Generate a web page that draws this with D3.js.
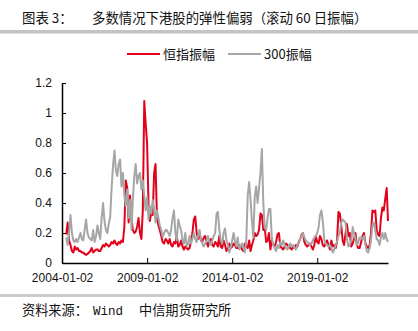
<!DOCTYPE html>
<html>
<head>
<meta charset="utf-8">
<script src="https://cdn.jsdelivr.net/npm/d3@7"></script>
<style>
  html, body { margin: 0; padding: 0; background: #fff; }
  svg { display: block; }
  .cjk { font-family: "Noto Sans CJK SC", "Noto Sans", sans-serif; }
  .tick text { font-family: "Liberation Sans", Arial, sans-serif; }
</style>
</head>
<body>
<svg id="chart" width="418" height="331"></svg>
<script>
// Series names (legend order)
const seriesNames = ["恒指振幅", "300振幅"];

// Monthly observations, 2004-01 .. 2023-03 (first months empty: 60-day window not yet filled)
const firstMonth = new Date(2004, 0, 1);
const endMonth = new Date(2023, 3, 1);

// Hang Seng Index rolling 60-day amplitude
const hsiAmp = [null, null, null,
  0.19,0.27,0.15,0.12,0.08,0.07,0.11,0.09,0.1,0.08,
  0.08,0.07,0.07,0.06,0.055,0.06,0.07,0.08,0.1,0.07,
  0.08,0.09,0.09,0.08,0.08,0.1,0.12,0.11,0.13,0.12,
  0.11,0.12,0.14,0.13,0.15,0.13,0.12,0.14,0.13,0.15,
  0.14,0.24,0.55,0.5,0.27,0.45,0.3,0.22,0.2,0.21,
  0.24,0.3,0.2,0.16,0.35,1.08,0.93,0.8,0.38,0.28,
  0.34,0.32,0.6,0.66,0.3,0.25,0.22,0.18,0.14,0.13,
  0.16,0.15,0.13,0.16,0.12,0.11,0.14,0.13,0.18,0.11,
  0.12,0.15,0.11,0.09,0.11,0.1,0.09,0.1,0.14,0.2,
  0.29,0.31,0.2,0.16,0.2,0.15,0.14,0.17,0.18,0.14,
  0.11,0.15,0.16,0.12,0.11,0.14,0.13,0.11,0.18,0.11,
  0.1,0.15,0.12,0.08,0.1,0.13,0.1,0.11,0.13,0.12,
  0.1,0.1,0.12,0.11,0.09,0.08,0.13,0.11,0.1,0.15,
  0.08,0.12,0.15,0.2,0.18,0.19,0.22,0.33,0.32,0.22,
  0.24,0.14,0.15,0.2,0.09,0.15,0.12,0.11,0.14,0.19,
  0.2,0.11,0.1,0.09,0.11,0.13,0.12,0.11,0.1,0.09,
  0.11,0.1,0.12,0.11,0.14,0.16,0.19,0.2,0.14,0.12,
  0.11,0.12,0.13,0.11,0.09,0.12,0.18,0.14,0.13,0.18,
  0.16,0.12,0.11,0.13,0.15,0.12,0.09,0.15,0.11,0.12,
  0.1,0.14,0.34,0.33,0.25,0.15,0.12,0.2,0.26,0.18,
  0.2,0.11,0.13,0.16,0.2,0.12,0.1,0.1,0.14,0.18,
  0.2,0.13,0.11,0.1,0.12,0.2,0.35,0.34,0.35,0.22,
  0.19,0.18,0.3,0.37,0.35,0.43,0.5,0.28];

// CSI 300 rolling 60-day amplitude
const csiAmp = [null, null, null,
  0.17,0.12,0.2,0.32,0.2,0.15,0.14,0.16,0.14,0.17,
  0.2,0.16,0.15,0.22,0.29,0.2,0.17,0.16,0.15,0.22,
  0.14,0.18,0.25,0.2,0.16,0.3,0.4,0.28,0.22,0.2,
  0.26,0.31,0.5,0.65,0.75,0.62,0.58,0.66,0.69,0.51,
  0.6,0.45,0.38,0.49,0.3,0.42,0.22,0.42,0.58,0.66,
  0.53,0.58,0.6,0.49,0.55,0.45,0.35,0.44,0.29,0.38,
  0.33,0.42,0.36,0.27,0.35,0.3,0.25,0.22,0.175,0.2,
  0.22,0.22,0.2,0.18,0.22,0.3,0.35,0.2,0.15,0.29,
  0.25,0.22,0.15,0.13,0.2,0.11,0.13,0.18,0.13,0.16,
  0.2,0.16,0.14,0.18,0.22,0.16,0.13,0.11,0.13,0.15,
  0.18,0.14,0.12,0.15,0.18,0.2,0.33,0.34,0.22,0.15,
  0.13,0.2,0.23,0.15,0.12,0.07,0.1,0.15,0.2,0.15,
  0.11,0.17,0.09,0.11,0.13,0.1,0.07,0.15,0.45,0.54,
  0.42,0.28,0.17,0.44,0.51,0.4,0.5,0.6,0.76,0.4,
  0.24,0.22,0.3,0.36,0.36,0.17,0.12,0.1,0.08,0.12,
  0.1,0.14,0.12,0.15,0.12,0.1,0.09,0.11,0.13,0.11,
  0.12,0.1,0.09,0.12,0.14,0.16,0.18,0.2,0.17,0.15,
  0.14,0.13,0.12,0.13,0.15,0.17,0.18,0.2,0.24,0.32,
  0.35,0.28,0.16,0.13,0.12,0.11,0.12,0.1,0.07,0.09,
  0.12,0.14,0.18,0.2,0.27,0.29,0.28,0.27,0.16,0.11,
  0.12,0.15,0.24,0.2,0.16,0.12,0.14,0.17,0.17,0.16,
  0.18,0.12,0.08,0.07,0.1,0.15,0.25,0.27,0.22,0.16,
  0.15,0.12,0.17,0.2,0.16,0.2,0.16,0.14];

// Axis tick labels
const xTickLabels = ["2004-01-02", "2009-01-02", "2014-01-02", "2019-01-02"];
const yTickValues = [0, 0.2, 0.4, 0.6, 0.8, 1, 1.2];
const yTickLabels = ["0", "0.2", "0.4", "0.6", "0.8", "1", "1.2"];

const colors = { hsi: "#e3001b", csi: "#a6a6a6" };

const svg = d3.select("#chart");
const months = d3.timeMonth.range(firstMonth, endMonth);
const parseDay = d3.timeParse("%Y-%m-%d");

const x = d3.scaleTime()
  .domain([firstMonth, months[months.length - 1]])
  .range([62, 388]);
const y = d3.scaleLinear().domain([0, 1.2]).range([263, 83]);

// Header
const title = svg.append("text").attr("class", "cjk").attr("y", 23).attr("font-size", 13.4).attr("fill", "#111");
title.append("tspan").attr("x", 22).text("图表 3：");
title.append("tspan").attr("x", 92).text("多数情况下港股的弹性偏弱（滚动 60 日振幅）");
svg.append("rect").attr("x", 0).attr("y", 30).attr("width", 418).attr("height", 3.5).attr("fill", "#c4c4c4");

// Footer
svg.append("rect").attr("x", 0).attr("y", 294).attr("width", 418).attr("height", 3).attr("fill", "#cccccc");
const src = svg.append("text").attr("class", "cjk").attr("y", 315).attr("font-size", 13.2).attr("fill", "#111");
src.append("tspan").attr("x", 22).text("资料来源：");
src.append("tspan").attr("x", 93).style("font-family", "'Liberation Mono', monospace").attr("font-size", 12.5).text("Wind");
src.append("tspan").attr("x", 139).text("中信期货研究所");

// Axes
const yAxis = d3.axisLeft(y)
  .tickValues(yTickValues)
  .tickFormat((d, i) => yTickLabels[i])
  .tickSizeInner(-4).tickSizeOuter(0).tickPadding(10);
const gy = svg.append("g").attr("transform", "translate(62,0)").call(yAxis);

const xAxis = d3.axisBottom(x)
  .tickValues(xTickLabels.map(parseDay))
  .tickFormat((d, i) => xTickLabels[i])
  .tickSizeInner(-5).tickSizeOuter(0).tickPadding(10);
const gx = svg.append("g").attr("transform", "translate(0,263)").call(xAxis);

[gx, gy].forEach(g => {
  g.attr("font-family", null).attr("font-size", null);
  g.select(".domain").attr("stroke", "#000").attr("stroke-width", 1.5);
  g.selectAll(".tick line").attr("stroke", "#000").attr("stroke-width", 1);
  g.selectAll(".tick text").attr("font-size", 12).attr("fill", "#111");
});

// Lines
const line = d3.line()
  .defined(d => d.v != null)
  .x(d => x(d.date))
  .y(d => y(d.v));

const hsiData = months.map((date, i) => ({ date, v: hsiAmp[i] }));
const csiData = months.map((date, i) => ({ date, v: csiAmp[i] }));

svg.append("path").datum(hsiData)
  .attr("d", line).attr("fill", "none")
  .attr("stroke", colors.hsi).attr("stroke-width", 2).attr("stroke-linejoin", "round");
svg.append("path").datum(csiData)
  .attr("d", line).attr("fill", "none")
  .attr("stroke", colors.csi).attr("stroke-width", 2).attr("stroke-linejoin", "round");

// Legend
const legend = [
  { name: seriesNames[0], color: colors.hsi, x0: 127 },
  { name: seriesNames[1], color: colors.csi, x0: 228 }
];
const lg = svg.append("g").selectAll("g").data(legend).join("g");
lg.append("line")
  .attr("x1", d => d.x0).attr("x2", d => d.x0 + 33)
  .attr("y1", 54).attr("y2", 54)
  .attr("stroke", d => d.color).attr("stroke-width", 2);
lg.append("text")
  .attr("class", "cjk")
  .attr("x", d => d.x0 + 36).attr("y", 58.5)
  .attr("font-size", 13).attr("fill", "#111")
  .text(d => d.name);
</script>
</body>
</html>
